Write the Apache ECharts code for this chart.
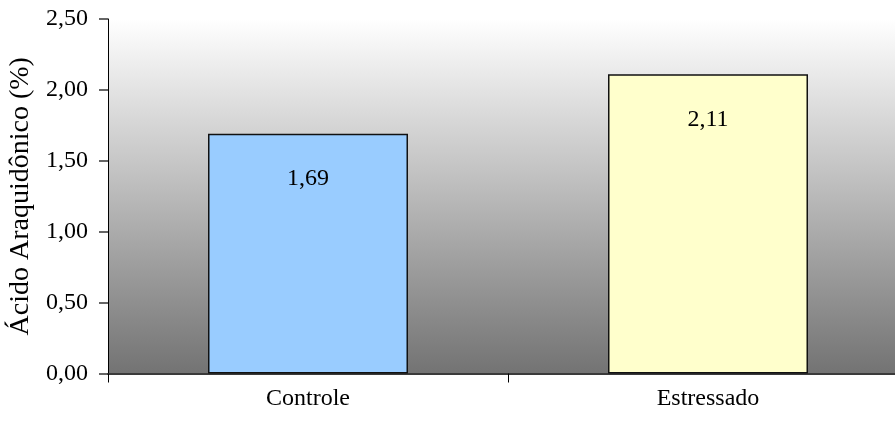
<!DOCTYPE html>
<html>
<head>
<meta charset="utf-8">
<script src="https://cdn.jsdelivr.net/npm/echarts@6/dist/echarts.min.js"></script>
<style>
  html, body { margin: 0; padding: 0; background: #ffffff; }
  #chart { width: 895px; height: 430px; }
</style>
</head>
<body>
<div id="chart"></div>
<script>
// Arachidonic acid share per group
const categories = ['Controle', 'Estressado'];
const values = [1.69, 2.11];
const barColors = ['#99ccff', '#ffffcc'];
const axisTitle = 'Ácido Araquidônico (%)';

const serif = '"Liberation Serif", "Times New Roman", serif';
const fmt = v => v.toFixed(2).replace('.', ',');

const chart = echarts.init(document.getElementById('chart'), null, { renderer: 'canvas' });

chart.setOption({
  animation: false,
  backgroundColor: '#ffffff',
  grid: {
    left: 108,
    top: 19,
    bottom: 56.5,
    width: 800,
    containLabel: false,
    outerBoundsMode: 'none',
    show: true,
    borderWidth: 0,
    backgroundColor: new echarts.graphic.LinearGradient(0, 0, 0, 1, [
      { offset: 0, color: '#ffffff' },
      { offset: 1, color: '#737373' }
    ])
  },
  xAxis: {
    type: 'category',
    data: categories,
    axisLine: { lineStyle: { color: '#3a3a3a', width: 2 } },
    axisTick: { show: true, length: 9, lineStyle: { color: '#000000', width: 1 } },
    axisLabel: { color: '#000000', fontFamily: serif, fontSize: 24, margin: 13 },
    splitLine: { show: false }
  },
  yAxis: {
    type: 'value',
    min: 0,
    max: 2.5,
    interval: 0.5,
    name: axisTitle,
    nameLocation: 'middle',
    nameRotate: 90,
    nameGap: 71,
    nameTextStyle: { color: '#000000', fontFamily: serif, fontSize: 28 },
    axisLine: { show: true, lineStyle: { color: '#000000', width: 1 } },
    axisTick: { show: true, length: 9, lineStyle: { color: '#333333', width: 1.5 } },
    axisLabel: { color: '#000000', fontFamily: serif, fontSize: 24, margin: 20, formatter: fmt },
    splitLine: { show: false }
  },
  series: [{
    type: 'bar',
    barWidth: '50%',
    data: values.map((v, i) => ({
      value: v,
      itemStyle: { color: barColors[i], borderColor: '#111111', borderWidth: 1.5 }
    })),
    label: {
      show: true,
      position: 'insideTop',
      distance: 33,
      color: '#000000',
      fontFamily: serif,
      fontSize: 24,
      formatter: p => fmt(p.value)
    }
  }]
});
</script>
</body>
</html>
